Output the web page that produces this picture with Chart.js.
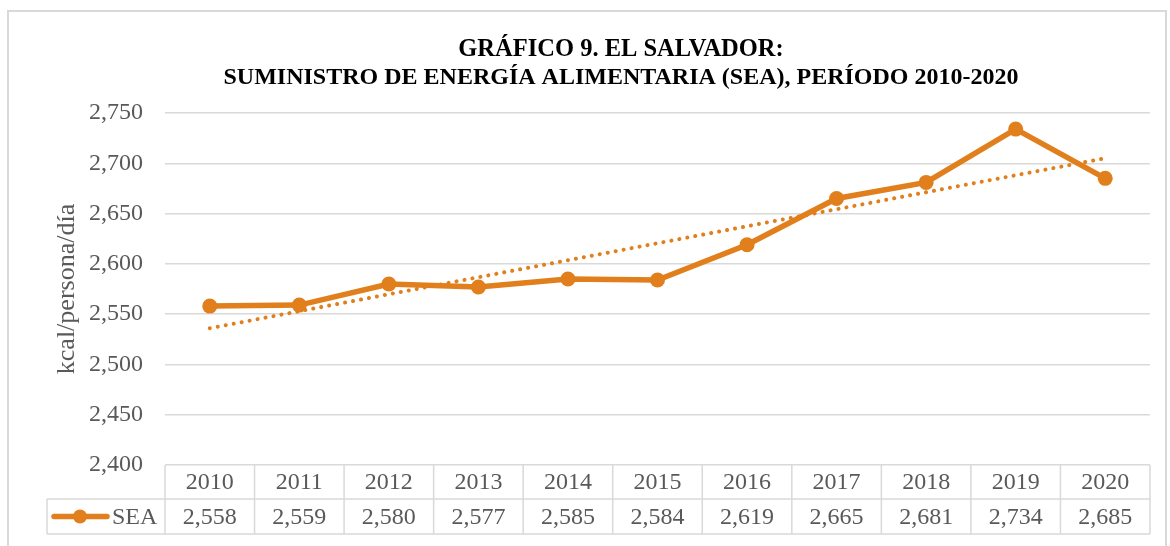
<!DOCTYPE html>
<html>
<head>
<meta charset="utf-8">
<script src="https://cdn.jsdelivr.net/npm/chart.js@4"></script>
<style>
  html, body { margin: 0; padding: 0; background: #fff; }
  #wrap { position: relative; width: 1170px; height: 546px; }
</style>
</head>
<body>
<div id="wrap"><canvas id="myChart" width="1170" height="546"></canvas></div>
<script>
const years = ["2010","2011","2012","2013","2014","2015","2016","2017","2018","2019","2020"];
const sea = [2558, 2559, 2580, 2577, 2585, 2584, 2619, 2665, 2681, 2734, 2685];
// trendline ends (linear trend, Excel style)
const trend = [2536, null, null, null, null, null, null, null, null, null, 2705];
const titleLines = ["GRÁFICO 9. EL SALVADOR:", "SUMINISTRO DE ENERGÍA ALIMENTARIA (SEA), PERÍODO 2010-2020"];
const yTitle = "kcal/persona/día";
const seriesName = "SEA";

const orange = "#E07F1C";
const grey = "#595959";
const lineGrey = "#d9d9d9";
const serif = "'Liberation Serif', 'Times New Roman', serif";

const fmt = v => v.toLocaleString("en-US");

// frame, title and data table below the plot
const extras = {
  id: "extras",
  beforeDraw(chart) {
    const c = chart.ctx;
    c.save();
    c.fillStyle = "#fff";
    c.fillRect(0, 0, chart.width, chart.height);
    c.strokeStyle = lineGrey;
    c.lineWidth = 2;
    c.strokeRect(8, 11, 1158, 560);
    c.restore();
  },
  afterDraw(chart) {
    const c = chart.ctx;
    const x = chart.scales.x;
    const area = chart.chartArea;
    const step = (area.right - area.left) / years.length;
    const top = area.bottom;
    const mid = top + 34;
    const bot = top + 69;
    const legLeft = 47;

    c.save();
    // title
    c.fillStyle = "#000";
    c.textAlign = "center";
    c.textBaseline = "middle";
    c.font = "bold 24.5px " + serif;
    c.fillText(titleLines[0], 621, 50);
    c.font = "bold 24px " + serif;
    c.fillText(titleLines[1], 621, 78);

    // table grid
    c.strokeStyle = lineGrey;
    c.lineWidth = 1.5;
    c.beginPath();
    c.moveTo(legLeft, mid); c.lineTo(area.right, mid);
    c.moveTo(legLeft, bot); c.lineTo(area.right, bot);
    c.moveTo(legLeft, mid); c.lineTo(legLeft, bot);
    for (let i = 0; i <= years.length; i++) {
      const px = area.left + i * step;
      c.moveTo(px, top); c.lineTo(px, bot);
    }
    c.stroke();

    // table text
    c.fillStyle = grey;
    c.font = "24px " + serif;
    c.textAlign = "center";
    years.forEach((y, i) => {
      const px = x.getPixelForValue(i);
      c.fillText(y, px, (top + mid) / 2 + 1);
      c.fillText(fmt(sea[i]), px, (mid + bot) / 2 + 1);
    });

    // legend key
    const ky = (mid + bot) / 2;
    c.strokeStyle = orange;
    c.lineWidth = 5.5;
    c.lineCap = "round";
    c.beginPath();
    c.moveTo(54, ky); c.lineTo(107, ky);
    c.stroke();
    c.fillStyle = orange;
    c.beginPath();
    c.arc(80, ky, 7, 0, Math.PI * 2);
    c.fill();
    c.fillStyle = grey;
    c.textAlign = "left";
    c.fillText(seriesName, 112, ky + 1);
    c.restore();
  }
};

const ctx = document.getElementById("myChart");

new Chart(ctx, {
  type: "line",
  data: {
    labels: years,
    datasets: [
      {
        label: "Lineal (SEA)",
        data: trend,
        spanGaps: true,
        borderColor: orange,
        borderWidth: 4,
        borderDash: [0.1, 8],
        borderCapStyle: "round",
        pointRadius: 0,
        order: 0
      },
      {
        label: seriesName,
        data: sea,
        borderColor: orange,
        backgroundColor: orange,
        borderWidth: 5.5,
        pointRadius: 7.5,
        pointHoverRadius: 7.5,
        pointBackgroundColor: orange,
        pointBorderWidth: 0,
        tension: 0,
        order: 1
      }
    ]
  },
  options: {
    responsive: false,
    animation: false,
    events: [],
    layout: { padding: { left: 52, right: 20, top: 113, bottom: 81 } },
    plugins: {
      legend: { display: false },
      title: { display: false },
      tooltip: { enabled: false }
    },
    scales: {
      x: {
        display: false,
        offset: true
      },
      y: {
        min: 2400,
        max: 2750,
        ticks: {
          stepSize: 50,
          color: grey,
          padding: 22,
          font: { family: serif, size: 24 },
          callback: v => fmt(v)
        },
        grid: { color: lineGrey, lineWidth: 1.5, drawTicks: false },
        border: { display: false },
        title: {
          display: true,
          text: yTitle,
          color: grey,
          font: { family: serif, size: 26 },
          padding: { top: 0, bottom: 0 }
        },
        afterFit(scale) { scale.width = 113; }
      }
    }
  },
  plugins: [extras]
});
</script>
</body>
</html>
